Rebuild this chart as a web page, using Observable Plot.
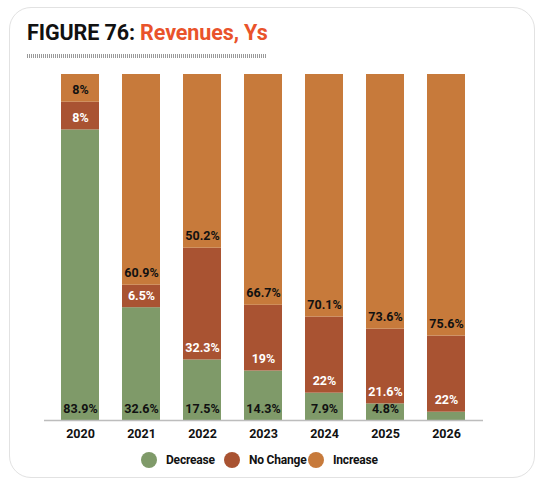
<!DOCTYPE html>
<html>
<head>
<meta charset="utf-8">
<script src="https://cdn.jsdelivr.net/npm/d3@7"></script>
<script src="https://cdn.jsdelivr.net/npm/@observablehq/plot@0.6"></script>
<style>
  html, body { margin: 0; padding: 0; background: #fff; }
  body { width: 546px; height: 486px; position: relative; overflow: hidden; font-family: Roboto, "Liberation Sans", sans-serif; }
  #card { position: absolute; left: 9px; top: 7px; width: 524px; height: 469px; border: 1.5px solid #e2e2e2; border-radius: 22px; }
  #title { position: absolute; left: 27px; top: 20px; font-size: 21.5px; font-weight: 700; letter-spacing: -0.1px; color: #111; white-space: nowrap; }
  #title span { color: #e9532b; }
  #rule { position: absolute; left: 27px; top: 54px; width: 240px; height: 4px;
    background: repeating-linear-gradient(90deg, #9a9a9a 0 1px, transparent 1px 2px); }
  #chart { position: absolute; left: 0; top: 60px; }
  #legend { position: absolute; top: 452px; left: 0; width: 546px; height: 18px; }
  .item { position: absolute; top: 0; display: flex; align-items: center; font-size: 12px; font-weight: 700; color: #111; letter-spacing: -0.2px; }
  .dot { width: 16px; height: 16px; border-radius: 50%; margin-right: 9px; }
</style>
</head>
<body>
<div id="card"></div>
<div id="title">FIGURE 76: <span>Revenues, Ys</span></div>
<div id="rule"></div>
<div id="chart"></div>
<div id="legend"></div>
<script>
const years = ["2020", "2021", "2022", "2023", "2024", "2025", "2026"];
const series = ["Decrease", "No Change", "Increase"];
const colors = ["#7f9a69", "#a95332", "#c77a3b"];
const labelColors = ["#111", "#fff", "#111"];
const decrease = [83.9, 32.6, 17.5, 14.3, 7.9, 4.8, 2.4];
const noChange = [8, 6.5, 32.3, 19, 22, 21.6, 22];
const increase = [8, 60.9, 50.2, 66.7, 70.1, 73.6, 75.6];

const values = [decrease, noChange, increase];
const data = [];
years.forEach((year, i) => {
  series.forEach((type, j) => {
    data.push({year, type, value: values[j][i], label: labelColors[j]});
  });
});

const fontFamily = "Roboto, 'Liberation Sans', sans-serif";

const chart = Plot.plot({
  width: 546,
  height: 390,
  marginTop: 14,
  marginBottom: 30,
  marginLeft: 44,
  marginRight: 63,
  style: { fontFamily, background: "transparent" },
  x: { domain: years, paddingInner: 0.37, paddingOuter: 0.226, label: null },
  y: { domain: [0, 1], axis: null },
  color: { domain: series, range: colors },
  marks: [
    Plot.barY(data, Plot.stackY({ x: "year", y: "value", z: "type", fill: "type", offset: "normalize" })),
    Plot.text(data, Plot.stackY1({
      x: "year", y: "value", z: "type", offset: "normalize",
      text: d => d.value >= 3 ? `${d.value}%` : "",
      fill: "label",
      dy: -12, fontSize: 12.5, fontWeight: 700
    })),
    Plot.ruleY([0], { stroke: "#bdbdbd", strokeWidth: 1.5 }),
    Plot.axisX({ tickSize: 0, tickPadding: 9, fontSize: 12.5, fontWeight: 700, fill: "#111", label: null })
  ]
});
document.getElementById("chart").appendChild(chart);

const legend = document.getElementById("legend");
const legendX = [141, 224, 308];
series.forEach((s, i) => {
  const item = document.createElement("div");
  item.className = "item";
  item.style.left = legendX[i] + "px";
  const dot = document.createElement("div");
  dot.className = "dot";
  dot.style.background = colors[i];
  item.appendChild(dot);
  const t = document.createElement("span");
  t.textContent = s;
  item.appendChild(t);
  legend.appendChild(item);
});
</script>
</body>
</html>
